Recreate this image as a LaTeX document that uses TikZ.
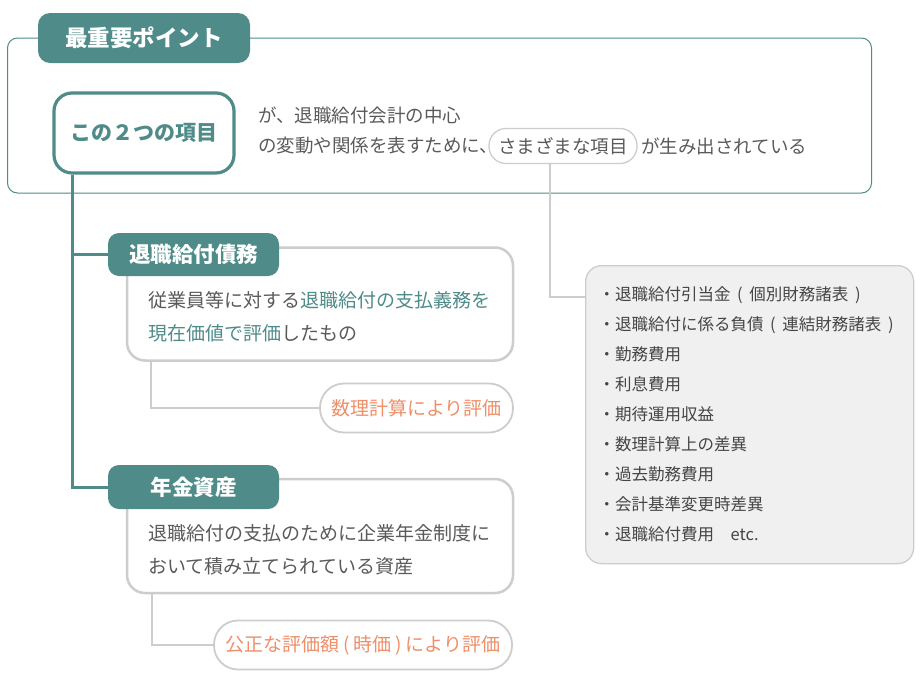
\documentclass[tikz,border=0pt]{standalone}
\usepackage{fontspec}
\setmainfont{Noto Sans CJK JP}
\usetikzlibrary{positioning}

\definecolor{keyteal}{HTML}{4E8B89}
\definecolor{evalorange}{HTML}{EF8F6A}
\definecolor{bodygrey}{HTML}{5A5A5A}
\definecolor{listgrey}{HTML}{454545}
\definecolor{framegrey}{HTML}{CDCDCD}
\definecolor{listfill}{HTML}{F0F0F0}
\newcommand{\psp}{\hspace{0.2em}}
\newcommand{\lsp}{\hspace{0.4em}}

\begin{document}
\begin{tikzpicture}[
    x=1pt, y=-1pt,
    tab/.style={rectangle, rounded corners=11pt, fill=keyteal, text=white, font=\fontsize{21.5}{24}\selectfont\bfseries, minimum width=171pt, minimum height=43pt, inner sep=0pt},
    card/.style={rectangle, rounded corners=18pt, draw=framegrey, line width=2.5pt, fill=white, minimum width=386pt, minimum height=113pt, inner sep=0pt},
    body/.style={align=left, anchor=west, inner sep=0pt, text=bodygrey, font=\fontsize{19}{33}\selectfont},
    toptext/.style={anchor=west, inner sep=0pt, text=bodygrey, font=\fontsize{18.5}{22}\selectfont},
    pill/.style={rectangle, rounded corners=24pt, draw=framegrey, line width=1.8pt, fill=white, text=evalorange, font=\fontsize{19}{22}\selectfont, minimum height=49pt, inner sep=0pt},
    trunk/.style={draw=keyteal, line width=3pt},
    twig/.style={draw=framegrey, line width=2pt}
]
\useasboundingbox (0,0) rectangle (920,688);

% 上の枠
\node (frame) at (439.5,115.5) [rectangle, draw=keyteal, line width=1pt, rounded corners=10pt, minimum width=864pt, minimum height=155pt] {};
\node (title) at (144,38) [tab, rounded corners=12pt, minimum width=212pt, minimum height=50pt, font=\fontsize{22.5}{25}\selectfont\bfseries] {最重要ポイント};
\node (key) at (144,133) [rectangle, rounded corners=18pt, draw=keyteal, line width=3.2pt, fill=white, minimum width=180pt, minimum height=80pt, inner sep=0pt, text=keyteal, font=\fontsize{21}{24}\selectfont\bfseries] {この２つの項目};

\node (intro1) at (258,115) [toptext] {が、退職給付会計の中心};
\node (intro2) at (258,146) [toptext] {の変動や関係を表すために、};
\node (varied) at (563,146) [rectangle, rounded corners=17pt, draw=framegrey, line width=1.3pt, fill=white, minimum width=148pt, minimum height=35pt, inner sep=0pt, text=bodygrey, font=\fontsize{18.5}{22}\selectfont] {さまざまな項目};
\node (outro) at (641,146) [toptext] {が生み出されている};

% 退職給付債務
\node (dbocard) at (320,304) [card] {};
\node (dbotab) at (193.5,254.5) [tab] {退職給付債務};
\node (dbotext) at (148,316.5) [body] {従業員等に対する\textcolor{keyteal}{退職給付の支払義務を}\\\textcolor{keyteal}{現在価値で評価}したもの};
\node (dboeval) at (416.5,408) [pill, minimum width=193pt] {数理計算により評価};
\draw [twig] ([xshift=25pt]dbocard.south west) |- (dboeval.west);

% 年金資産
\node (pacard) at (320,536) [card, minimum height=114pt] {};
\node (patab) at (193.5,487) [tab, minimum height=44pt] {年金資産};
\node (patext) at (148,549.5) [body] {退職給付の支払のために企業年金制度に\\おいて積み立てられている資産};
\node (paeval) at (363,645) [pill, minimum width=298pt] {公正な評価額\psp(\psp 時価\psp)\psp により評価};
\draw [twig] ([xshift=26pt]pacard.south west) |- (paeval.west);

% 幹の線
\draw [trunk] ([xshift=20pt]key.south west) |- (dbotab.west);
\draw [trunk] ([xshift=20pt]key.south west) |- (patab.west);

% さまざまな項目の一覧
\node (itemlist) at (585,265) [anchor=north west, rectangle, rounded corners=16pt, draw=framegrey, line width=1.3pt, fill=listfill, minimum width=328pt, minimum height=298pt, inner xsep=13pt, text width=302pt, align=left, text=listgrey, font=\fontsize{16.5}{30}\selectfont] {・退職給付引当金\lsp(\lsp 個別財務諸表\lsp)\\・退職給付に係る負債\lsp(\lsp 連結財務諸表\lsp)\\・勤務費用\\・利息費用\\・期待運用収益\\・数理計算上の差異\\・過去勤務費用\\・会計基準変更時差異\\・退職給付費用\quad etc.};
\draw [twig, line width=1.5pt] ([xshift=-13pt]varied.south) |- ([yshift=-32pt]itemlist.north west);

\end{tikzpicture}
\end{document}
